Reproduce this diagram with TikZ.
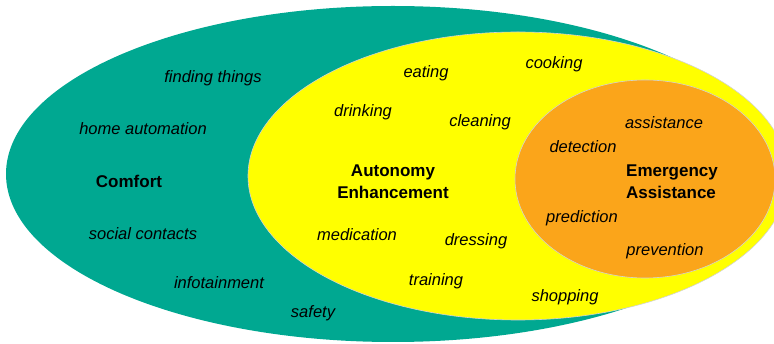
\documentclass[tikz,border=0pt]{standalone}
\usepackage{fontspec}
\setmainfont{Liberation Sans}
\definecolor{comfortgreen}{RGB}{0,168,145}
\definecolor{autoyellow}{RGB}{255,255,0}
\definecolor{emergorange}{RGB}{251,165,26}
\tikzset{
  word/.style={font=\itshape\fontsize{16.5}{18}\selectfont,inner sep=0pt,yshift=-1.5pt},
  head/.style={font=\bfseries\fontsize{17}{22}\selectfont,align=left,inner sep=0pt,yshift=-1pt}
}
\begin{document}
\begin{tikzpicture}[x=1pt,y=-1pt]
\useasboundingbox (0,0) rectangle (774,344);
\clip (0,0) rectangle (774,344);
\fill[white] (0,0) rectangle (774,344);
\fill[comfortgreen] (393,174) ellipse (387pt and 168pt);
\draw[fill=autoyellow,draw=gray!35,line width=0.6pt] (518,176) ellipse (270pt and 144pt);
\draw[fill=emergorange,draw=gray!35,line width=0.6pt] (645,179) ellipse (130pt and 99pt);
% comfort
\node[head] at (129,180) (comfort) {Comfort};
\node[word] at (213,77) (finding) {finding things};
\node[word] at (143,127) (homeauto) {home automation};
\node[word] at (143,232) (social) {social contacts};
\node[word] at (219,281) (infotain) {infotainment};
\node[word] at (313,312) (safety) {safety};
% autonomy
\node[head,align=center] at (393,181) (autonomy) {Autonomy\\Enhancement};
\node[word] at (426,72) (eating) {eating};
\node[word] at (554,63) (cooking) {cooking};
\node[word] at (363,111) (drinking) {drinking};
\node[word] at (480,121) (cleaning) {cleaning};
\node[word] at (357,233) (medication) {medication};
\node[word] at (476,240) (dressing) {dressing};
\node[word] at (436,280) (training) {training};
\node[word] at (565,296) (shopping) {shopping};
% emergency
\node[head] at (672,181) (emergency) {Emergency\\Assistance};
\node[word] at (664,121) (assist) {assistance};
\node[word] at (583,145) (detect) {detection};
\node[word] at (582,217) (predict) {prediction};
\node[word] at (665,250) (prevent) {prevention};
\end{tikzpicture}
\end{document}
